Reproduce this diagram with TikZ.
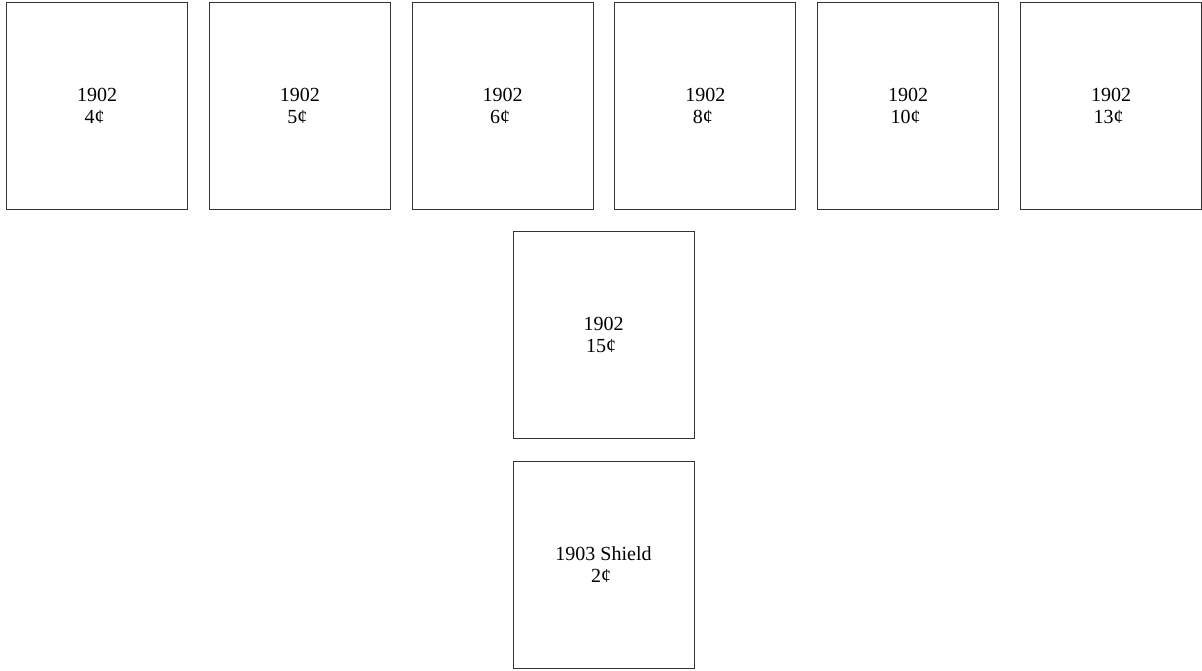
\documentclass[tikz,border=0pt]{standalone}
\usepackage{fontspec}
\setmainfont{Liberation Serif}

\begin{document}
\begin{tikzpicture}[x=1pt, y=-1pt]
    % Define colours
    \definecolor{borderColour}{HTML}{333333}

    % Macros for the size of a stamp box and the spacing of the top row
    \def\boxWidth{181} % Width of a stamp box
    \def\boxHeight{207} % Height of a stamp box
    \def\firstX{97} % X centre of the first box
    \def\rowPitch{202.8} % Distance between box centres
    \def\topY{106} % Y centre of the top row

  \tikzset{
    stampBox/.style={draw=borderColour, line width=1pt, rectangle,
      minimum width=\boxWidth pt, minimum height=\boxHeight pt, inner sep=0pt,
      align=center, font=\fontsize{20}{22.5}\selectfont}
  }

  % Fix the margins
  \useasboundingbox (0,0) rectangle (1202,670);

  % Top row of stamps
  \foreach \val [count=\i] in {4,5,6,8,10,13}
    \node[stampBox] (stamp\i) at ({\firstX+(\i-1)*\rowPitch}, \topY) {1902\\\val¢\hspace*{0.25em}};

  % Middle column below the row
  \node[stampBox] (stampFifteen) at (603.5,335) {1902\\15¢\hspace*{0.25em}};
  \node[stampBox] (stampShield) at (603.5,564.5) {1903 Shield\\2¢\hspace*{0.25em}};

\end{tikzpicture}
\end{document}
